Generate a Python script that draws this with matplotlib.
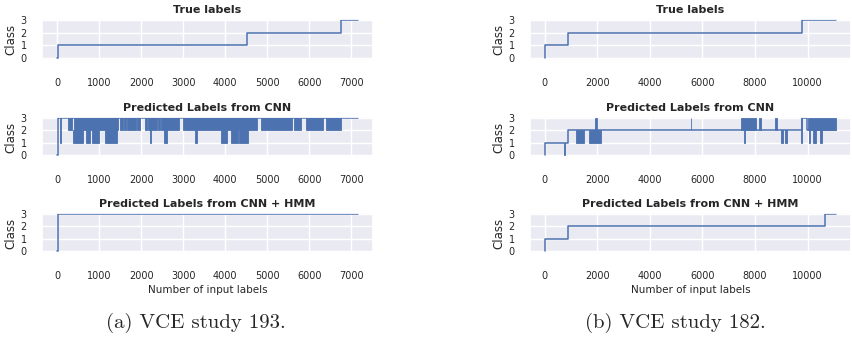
import matplotlib
matplotlib.use("Agg")
import matplotlib.pyplot as plt
import seaborn as sns

# ---- VCE study 193 (left column) ----
n_193 = 7157
true_193_x = [0, 15, 4510, 6745]
true_193_y = [0, 1, 2, 3]
cnn_193_x = [0, 20]
cnn_193_y = [0, 3]
# regions where the CNN output flickers: (start, end, low class, high class)
cnn_193_blocks = [
    (70, 95, 1, 3), (250, 360, 2, 3), (400, 1460, 2, 3), (1490, 1560, 2, 3),
    (1590, 1640, 2, 3), (1670, 1880, 2, 3), (1910, 1970, 2, 3), (2090, 2140, 2, 3),
    (2160, 2370, 2, 3), (2400, 2450, 2, 3), (2480, 2890, 2, 3), (2990, 4760, 2, 3),
    (4840, 5590, 2, 3), (5640, 5800, 2, 3), (5920, 6320, 2, 3), (6400, 6760, 2, 3),
    (380, 610, 1, 2), (690, 780, 1, 2), (830, 990, 1, 2), (1130, 1430, 1, 2),
    (2205, 2245, 1, 2), (2550, 2620, 1, 2), (3280, 3320, 1, 2), (3890, 4040, 1, 2),
    (4130, 4300, 1, 2), (4330, 4550, 1, 2),
]
hmm_193_x = [0, 20]
hmm_193_y = [0, 3]

# ---- VCE study 182 (right column) ----
n_182 = 11090
true_182_x = [0, 10, 907, 9790]
true_182_y = [0, 1, 2, 3]
cnn_182_x = [0, 10, 905, 9770, 9990]
cnn_182_y = [0, 1, 2, 3, 2]
cnn_182_blocks = [
    (755, 775, 0, 1), (1190, 1480, 1, 2), (1680, 1750, 1, 2), (1760, 2140, 1, 2),
    (1900, 1980, 2, 3), (5545, 5575, 2, 3), (7460, 8030, 2, 3), (7570, 7610, 1, 2),
    (8150, 8240, 2, 3), (8760, 8850, 2, 3), (8980, 9050, 1, 2), (9140, 9200, 1, 2),
    (9760, 9790, 1, 3), (10020, 11090, 2, 3), (10040, 10100, 1, 2),
    (10200, 10330, 1, 2), (10480, 10540, 1, 2),
]
hmm_182_x = [0, 10, 907, 10660]
hmm_182_y = [0, 1, 2, 3]

titles = ["True labels", "Predicted Labels from CNN", "Predicted Labels from CNN + HMM"]
captions = ["(a) VCE study 193.", "(b) VCE study 182."]

sns.set_theme(style="darkgrid")
plt.rcParams["font.family"] = ["DejaVu Sans"]

COLOR = "#4C72B0"
W, H = 852, 347
fig = plt.figure(figsize=(W / 100, H / 100), dpi=100)

col_left = [(42, 331), (530, 321)]
row_top = [(19, 60), (117, 157), (213, 253)]


def draw_step(ax, xs, ys, n, blocks=None):
    x = list(xs) + [n]
    y = list(ys) + [ys[-1]]
    ax.step(x, y, where="post", color=COLOR, lw=1.1)
    if blocks:
        for s, e, lo, hi in blocks:
            ax.fill_between([s, e], lo, hi, color=COLOR, lw=0.6, edgecolor=COLOR)


columns = [
    (n_193, [(true_193_x, true_193_y, None), (cnn_193_x, cnn_193_y, cnn_193_blocks),
             (hmm_193_x, hmm_193_y, None)]),
    (n_182, [(true_182_x, true_182_y, None), (cnn_182_x, cnn_182_y, cnn_182_blocks),
             (hmm_182_x, hmm_182_y, None)]),
]

for c, (n, series) in enumerate(columns):
    left, width = col_left[c]
    for r, (xs, ys, blocks) in enumerate(series):
        top, bottom = row_top[r]
        ax = fig.add_axes([left / W, 1 - bottom / H, width / W, (bottom - top) / H])
        draw_step(ax, xs, ys, n, blocks)
        ax.set_ylim(-0.2, 3.12)
        ax.set_yticks([0, 1, 2, 3])
        if c == 1:
            ax.set_xticks([0, 2000, 4000, 6000, 8000, 10000])
        ax.set_title(titles[r], fontsize=8, fontweight="bold", pad=4)
        ax.set_ylabel("Class", fontsize=8.5, labelpad=2)
        ax.tick_params(axis="x", labelsize=7, pad=7)
        ax.tick_params(axis="y", labelsize=7, pad=5)
        ax.grid(True, color="white", lw=1.0)
        if r == 2:
            ax.set_xlabel("Number of input labels", fontsize=7.5, labelpad=3)

fig.text(196 / W, 1 - 323 / H, captions[0], fontsize=15, family="cmr10",
         ha="center", va="center")
fig.text(675 / W, 1 - 323 / H, captions[1], fontsize=15, family="cmr10",
         ha="center", va="center")

fig.savefig("out.png", dpi=100)
